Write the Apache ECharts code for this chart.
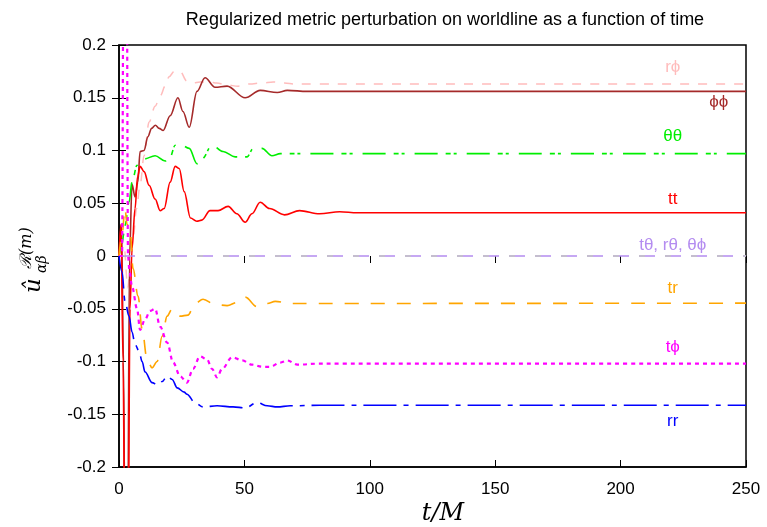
<!DOCTYPE html>
<html>
<head>
<meta charset="utf-8">
<script src="https://cdn.jsdelivr.net/npm/echarts@6/dist/echarts.min.js"></script>
<style>html,body{margin:0;padding:0;background:#fff}#c{width:767px;height:527px}</style>
</head>
<body>
<div id="c"></div>
<script>
// ---- data (t/M, value) ----
const xTicks = [0, 50, 100, 150, 200, 250];
const yTicks = [-0.2, -0.15, -0.1, -0.05, 0, 0.05, 0.1, 0.15, 0.2];

const rphi = [[0,0],[2,0.01],[3.5,-0.03],[4.5,-0.01],[5.6,0.016],[7,0.045],[8.4,0.067],[10,0.095],[12,0.127],[14.4,0.142],[16.5,0.152],[18.4,0.161],[20,0.170],[22,0.175],[24.4,0.175],[27,0.166],[29.5,0.164],[32.3,0.165],[36,0.165],[39,0.164],[43,0.162],[47.5,0.161],[52,0.163],[57,0.164],[61.5,0.165],[66,0.164],[70,0.163],[250,0.163]];
const phiphi = [[0,0],[1,0.03],[1.8,-0.1],[2.4,-0.3],[3.4,-0.3],[4.2,0.0],[5.2,0.068],[6.4,0.056],[7.5,0.07],[8.4,0.099],[10,0.1],[11.5,0.113],[13,0.121],[14.5,0.124],[16,0.121],[17.6,0.119],[20.4,0.133],[23.5,0.150],[25.5,0.137],[28,0.122],[31.1,0.156],[34.3,0.169],[38.3,0.160],[43.1,0.161],[50.3,0.150],[56.3,0.157],[63.1,0.155],[67.1,0.157],[75,0.156],[250,0.156]];
const thth = [[0,0],[1.2,0.012],[2.4,0.029],[4,0.051],[5.2,0.070],[7.2,0.086],[10,0.092],[14.4,0.095],[18.4,0.090],[20.4,0.094],[22.4,0.105],[24.4,0.106],[28,0.102],[31.1,0.0875],[33.1,0.092],[37.1,0.105],[41.5,0.099],[46.3,0.094],[51.1,0.094],[53.5,0.102],[57,0.102],[61,0.095],[64.3,0.097],[68,0.097],[250,0.097]];
const tt = [[0,0],[0.8,0.03],[1.6,-0.1],[2.4,-0.3],[3.6,-0.3],[4.4,-0.05],[5.2,0.007],[6.4,0.045],[7.4,0.075],[8.4,0.085],[10,0.080],[12,0.067],[14.4,0.054],[16.4,0.043],[18,0.045],[20.4,0.070],[22.4,0.085],[24,0.083],[26,0.061],[28.5,0.036],[31,0.033],[33,0.034],[36.3,0.043],[39.5,0.043],[43.5,0.047],[47,0.040],[50.3,0.032],[53,0.040],[56.3,0.051],[60,0.045],[66,0.039],[72,0.043],[80,0.040],[88,0.042],[95,0.041],[250,0.041]];
const zero = [[0,0],[250,0]];
const tr = [[0,0],[1.2,0.02],[2.4,0.045],[3.2,0.03],[4.4,0.026],[5.6,-0.012],[7.6,-0.038],[9.2,-0.069],[11.2,-0.098],[13.2,-0.106],[15.2,-0.100],[17.2,-0.076],[19.2,-0.057],[21.2,-0.050],[24.4,-0.057],[27.5,-0.056],[30.3,-0.045],[33.5,-0.041],[38.3,-0.046],[43.1,-0.047],[47.1,-0.044],[50.3,-0.039],[55.1,-0.048],[59.1,-0.045],[62.3,-0.043],[68.3,-0.045],[250,-0.0447]];
const tphi = [[0,0],[1.2,0.0],[1.9,0.35],[2.4,0.4],[3.0,0.35],[3.6,0.0],[4.2,-0.015],[5.2,-0.029],[7.2,-0.050],[8.4,-0.070],[10.4,-0.060],[12.4,-0.052],[14.4,-0.050],[16.4,-0.067],[19.2,-0.082],[21.6,-0.101],[24.4,-0.114],[27.1,-0.120],[29.5,-0.107],[32.3,-0.095],[35.1,-0.098],[37.1,-0.107],[39.1,-0.115],[41.1,-0.107],[45.1,-0.096],[49.1,-0.099],[53.1,-0.103],[57.1,-0.105],[60.3,-0.105],[64.3,-0.101],[67.1,-0.099],[71.1,-0.103],[80,-0.102],[250,-0.102]];
const rr = [[0,0],[1.2,-0.015],[2.4,-0.043],[4,-0.057],[5.2,-0.072],[6.4,-0.084],[8,-0.090],[9.2,-0.100],[10.4,-0.110],[13.2,-0.120],[15.2,-0.122],[17.2,-0.119],[19.2,-0.114],[21.2,-0.117],[23.2,-0.125],[26,-0.129],[27.1,-0.131],[30.3,-0.139],[33.5,-0.143],[39.1,-0.142],[45.5,-0.143],[50.3,-0.144],[55.1,-0.139],[59.1,-0.142],[63.1,-0.143],[68.3,-0.142],[80,-0.1415],[250,-0.1415]];

const labelNames = ['rϕ','ϕϕ','θθ','tt','tθ, rθ, θϕ','tr','tϕ','rr'];
const labelAt = [[220.8,0.179],[239.1,0.1455],[220.8,0.113],[220.8,0.0535],[220.8,0.0105],[220.8,-0.031],[220.8,-0.0865],[220.8,-0.157]];

const SANS = '"Liberation Sans", Arial, "DejaVu Sans", sans-serif';
const SERIF = '"DejaVu Serif", "Liberation Serif", serif';

function mk(name, data, color, width, dash, smooth, li) {
  const s = {
    name, type:'line', data, symbol:'none', showSymbol:false, clip:true,
    smooth: smooth, smoothMonotone:'x', z: 2,
    lineStyle:{color, width, type: dash || 'solid', cap:'butt'},
    emphasis:{disabled:true}, silent:true
  };
  if (li != null) {
    s.markPoint = {
      symbol:'rect', symbolSize:1, silent:true, animation:false,
      itemStyle:{color:'rgba(0,0,0,0)'},
      label:{show:true, position:'inside', formatter: labelNames[li], color: li===4 ? '#b48cf0' : color, fontSize:17, fontFamily:SANS},
      data:[{coord: labelAt[li]}]
    };
  }
  return s;
}

const axisCommonX = {type:'value', min:0, max:250, interval:50, splitLine:{show:false}};
const axisCommonY = {type:'value', min:-0.2, max:0.2, interval:0.05, splitLine:{show:false}};

const option = {
  animation:false,
  backgroundColor:'#fff',
  title:{text:'Regularized metric perturbation on worldline as a function of time', left:440, top:6, textAlign:'center',
    textStyle:{fontFamily:SANS, fontSize:18, fontWeight:'normal', color:'#000'}},
  grid:{left:119, right:21, top:45, bottom:60, show:true, borderColor:'#000', borderWidth:1.5, backgroundColor:'transparent'},
  xAxis:[
    Object.assign({}, axisCommonX, {position:'bottom',
      axisLine:{show:true, onZero:false, lineStyle:{color:'#000', width:1.5}},
      axisTick:{show:true, inside:true, length:7, lineStyle:{color:'#000', width:1}},
      axisLabel:{fontSize:17, color:'#000', margin:14, fontFamily:SANS,
        customValues: xTicks, formatter: v => String(v)}}),
    Object.assign({}, axisCommonX, {position:'top',
      axisLine:{show:false}, axisTick:{show:true, inside:true, length:7, lineStyle:{color:'#000'}},
      axisLabel:{show:false}})
  ],
  yAxis:[
    Object.assign({}, axisCommonY, {position:'left',
      axisLine:{show:true, onZero:false, lineStyle:{color:'#000', width:1.5}},
      axisTick:{show:true, inside:true, length:7, lineStyle:{color:'#000', width:1}},
      axisLabel:{fontSize:17, color:'#000', margin:13, fontFamily:SANS,
        formatter: v => String(Math.round(v*100)/100)}}),
    Object.assign({}, axisCommonY, {position:'right',
      axisLine:{show:false}, axisTick:{show:true, inside:true, length:7, lineStyle:{color:'#000'}},
      axisLabel:{show:false}})
  ],
  series:[
    mk('rϕ', rphi, '#ffbcbc', 1.5, [9,9], 0.35, 0),
    mk('ϕϕ', phiphi, '#a52a2a', 1.6, 'solid', 0.35, 1),
    mk('θθ', thth, '#00ee00', 1.6, [23,8,5,3,3,10], 0.35, 2),
    mk('tt', tt, '#ff0000', 1.6, 'solid', 0.35, 3),
    mk('tθ', zero, '#b48cf0', 1.5, [16,10], 0, 4),
    mk('rθ', zero, '#c4c4c4', 1.5, [6,20], 0, null),
    mk('tr', tr, '#ffa500', 1.6, [14,12], 0.35, 5),
    mk('tϕ', tphi, '#ff00ff', 2.2, [4,4], 0.35, 6),
    mk('rr', rr, '#0000ff', 1.6, [33,7,5,7], 0.35, 7)
  ],
  graphic:[
    {type:'group', x:44, y:293, rotation:Math.PI/2, silent:true, children:[
      {type:'text', x:0, y:2, style:{text:'û', font:'italic 23px ' + SERIF, fill:'#000', verticalAlign:'bottom', align:'left'}},
      {type:'text', x:24, y:-9, style:{text:'ℛ(m)', font:'italic 16px ' + SERIF, fill:'#000', verticalAlign:'bottom', align:'left'}},
      {type:'text', x:20, y:5, style:{text:'αβ', font:'italic 14px ' + SERIF, fill:'#000', verticalAlign:'bottom', align:'left'}}
    ]},
    {type:'text', x:443, y:514, silent:true, style:{text:'t/M', font:'italic 24px ' + SERIF, fill:'#000', align:'center', verticalAlign:'middle'}}
  ]
};

const chart = echarts.init(document.getElementById('c'), null, {renderer:'canvas'});
chart.setOption(option);
</script>
</body>
</html>
